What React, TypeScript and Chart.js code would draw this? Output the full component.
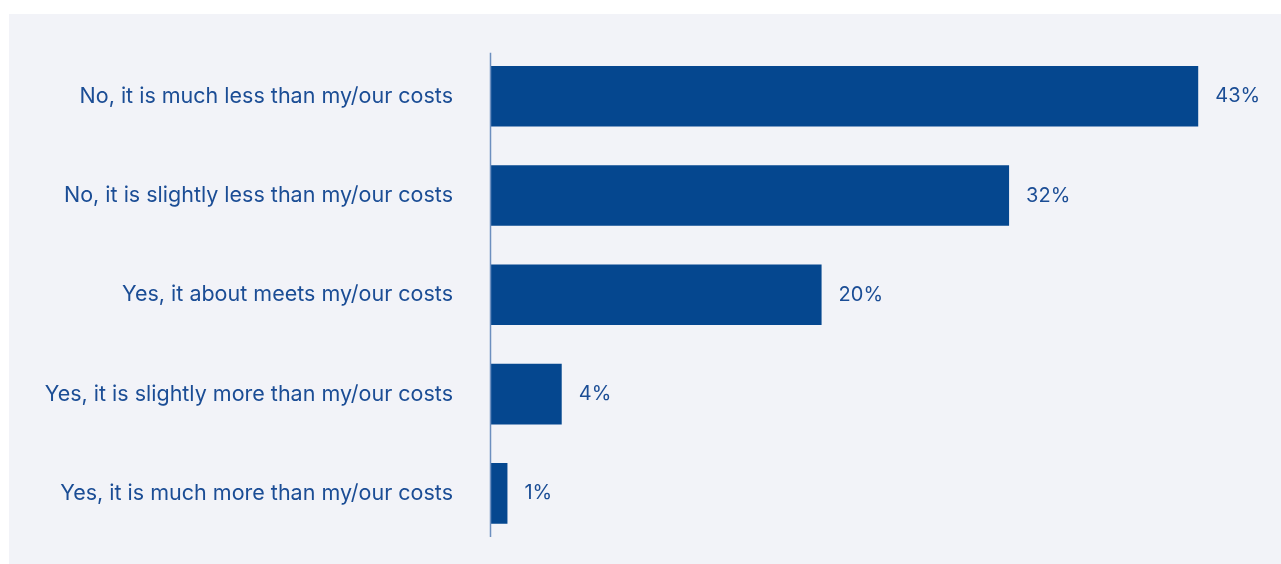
import React, { useEffect, useRef } from "react";
import { Chart, registerables } from "chart.js";

Chart.register(...registerables);

const categories = [
  "No, it is much less than my/our costs",
  "No, it is slightly less than my/our costs",
  "Yes, it about meets my/our costs",
  "Yes, it is slightly more than my/our costs",
  "Yes, it is much more than my/our costs",
];
const values = [43.0, 31.5, 20.1, 4.3, 1.0];
const valueLabels = ["43%", "32%", "20%", "4%", "1%"];

const BAR = "#05478f";
const TEXT = "#1b4d95";
const FONT = "Inter, 'Noto Sans', sans-serif";

const axisLine = {
  id: "axisLine",
  afterDatasetsDraw(chart: any) {
    const { ctx, chartArea } = chart;
    ctx.save();
    ctx.strokeStyle = "#6d8fbf";
    ctx.lineWidth = 1.5;
    ctx.beginPath();
    ctx.moveTo(chartArea.left - 0.5, chartArea.top + 6);
    ctx.lineTo(chartArea.left - 0.5, chartArea.bottom - 6);
    ctx.stroke();
    ctx.restore();
  },
};

const dataLabels = {
  id: "dataLabels",
  afterDatasetsDraw(chart: any) {
    const { ctx } = chart;
    const meta = chart.getDatasetMeta(0);
    ctx.save();
    ctx.fillStyle = TEXT;
    ctx.font = `20px ${FONT}`;
    ctx.textAlign = "left";
    ctx.textBaseline = "middle";
    meta.data.forEach((bar: any, i: number) => {
      ctx.fillText(valueLabels[i], bar.x + 17, bar.y);
    });
    ctx.restore();
  },
};

export default function App() {
  const ref = useRef<HTMLCanvasElement>(null);
  useEffect(() => {
    if (!ref.current) return;
    const chart = new Chart(ref.current, {
      type: "bar",
      data: {
        labels: categories,
        datasets: [
          {
            data: values,
            backgroundColor: BAR,
            borderWidth: 0,
            categoryPercentage: 1,
            barPercentage: 0.61,
          },
        ],
      },
      options: {
        indexAxis: "y",
        animation: false,
        responsive: true,
        maintainAspectRatio: false,
        layout: { padding: { top: 32.7, bottom: 21, right: 17, left: 0 } },
        plugins: { legend: { display: false }, tooltip: { enabled: false } },
        scales: {
          x: { display: false, min: 0, max: 47 },
          y: {
            afterFit(scale: any) {
              scale.width = 482;
              scale.paddingTop = 0;
              scale.paddingBottom = 0;
            },
            border: { display: false },
            grid: { display: false, drawTicks: false },
            ticks: {
              color: TEXT,
              padding: 38,
              font: { family: FONT, size: 21.5 },
            },
          },
        },
      },
      plugins: [axisLine, dataLabels],
    });
    return () => chart.destroy();
  }, []);
  return (
    <div
      style={{
        position: "fixed",
        left: 9,
        top: 14,
        right: 0,
        bottom: 0,
        background: "#f2f3f8",
      }}
    >
      <canvas ref={ref} />
    </div>
  );
}
